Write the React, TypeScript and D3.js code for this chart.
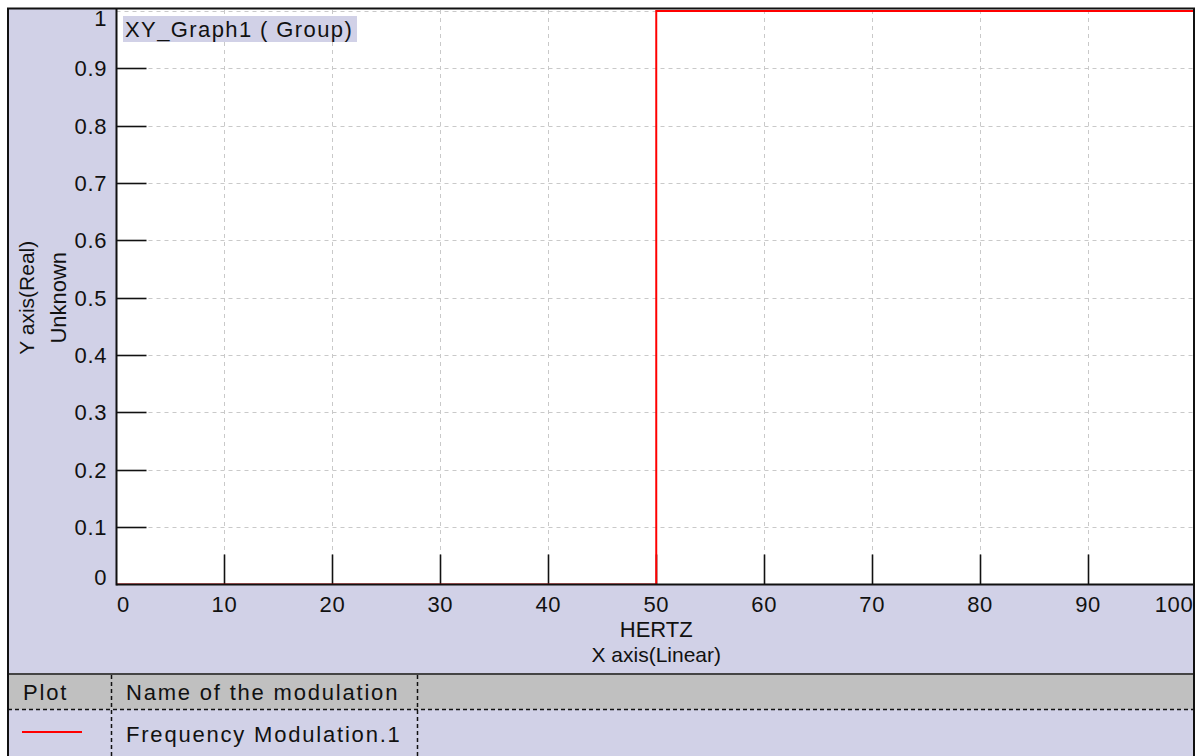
import React from "react";
import * as d3 from "d3";

// ---- data ----
const hertz: number[] = [0, 50, 50, 100];
const modulation: number[] = [0, 0, 1, 1];
const xTickValues: number[] = [0, 10, 20, 30, 40, 50, 60, 70, 80, 90, 100];
const yTickValues: number[] = [0, 0.1, 0.2, 0.3, 0.4, 0.5, 0.6, 0.7, 0.8, 0.9, 1];
const yTickLabels: string[] = ["0", "0.1", "0.2", "0.3", "0.4", "0.5", "0.6", "0.7", "0.8", "0.9", "1"];
const graphTitle = "XY_Graph1 ( Group)";
const xTitle1 = "HERTZ";
const xTitle2 = "X axis(Linear)";
const yTitle1 = "Y axis(Real)";
const yTitle2 = "Unknown";
const legendHeaders: string[] = ["Plot", "Name of the modulation"];
const seriesName = "Frequency Modulation.1";

const W = 1203;
const H = 756;
const FONT = "'Liberation Sans', Arial, Helvetica, sans-serif";
const LAV = "#d1d1e7";

export default function App() {
  const frameL = 8, frameR = 1194, frameT = 8.5;
  const plotL = 116.5, plotR = 1194, plotB = 584.5, plotT = 10;
  const x = d3.scaleLinear().domain([0, 100]).range([plotL, 1196]);
  const y = d3.scaleLinear().domain([0, 1]).range([plotB, 11]);
  const line = d3
    .line<number>()
    .x((_, i) => x(hertz[i]))
    .y((d) => y(d));
  const pathD = line(modulation) || "";

  const sepY = 674;
  const headerB = 709.5;
  const col1 = 111.5;
  const col2 = 417.5;
  const fs = 21;
  const fsL = 22;
  const ls = 1.8;

  return (
    <svg
      width={W}
      height={H}
      style={{ position: "absolute", left: 0, top: 0, display: "block" }}
      fontFamily={FONT}
    >
      <defs>
        <clipPath id="plotclip">
          <rect x={plotL} y={plotT - 2} width={plotR - plotL} height={plotB - plotT + 2} />
        </clipPath>
        <clipPath id="frameclip">
          <rect x={frameL} y={frameT} width={frameR - frameL} height={H} />
        </clipPath>
      </defs>
      <rect x={0} y={0} width={W} height={H} fill="#ffffff" />
      {/* frame background */}
      <rect x={frameL} y={frameT} width={frameR - frameL} height={H - frameT} fill={LAV} />
      {/* plot area */}
      <rect x={plotL} y={plotT - 1} width={plotR - plotL} height={plotB - plotT + 1} fill="#ffffff" />
      {/* grid */}
      <g stroke="#c9c9c9" strokeWidth={1} strokeDasharray="4,4" clipPath="url(#plotclip)">
        {xTickValues.slice(1).map((v) => (
          <line key={"gx" + v} x1={Math.round(x(v)) + 0.5} x2={Math.round(x(v)) + 0.5} y1={plotT} y2={plotB} />
        ))}
        {yTickValues.slice(1).map((v) => (
          <line key={"gy" + v} x1={plotL} x2={plotR} y1={Math.round(y(v)) + 0.5} y2={Math.round(y(v)) + 0.5} />
        ))}
      </g>
      {/* graph title */}
      <rect x={123} y={16} width={234} height={26} fill={LAV} />
      <text x={125} y={37} fontSize={fsL} letterSpacing={1.4} fill="#111">{graphTitle}</text>
      {/* ticks */}
      <g stroke="#111" strokeWidth={1.6}>
        {yTickValues.slice(1, 10).map((v) => (
          <line key={"ty" + v} x1={plotL} x2={plotL + 30} y1={Math.round(y(v)) + 0.5} y2={Math.round(y(v)) + 0.5} />
        ))}
        {xTickValues.slice(1, 10).map((v) => (
          <line key={"tx" + v} x1={Math.round(x(v)) + 0.5} x2={Math.round(x(v)) + 0.5} y1={plotB} y2={plotB - 30} />
        ))}
      </g>
      {/* series */}
      <path d={pathD} fill="none" stroke="#ff0000" strokeWidth={2} clipPath="url(#plotclip)" />
      {/* axes */}
      <line x1={plotL} x2={plotL} y1={frameT} y2={plotB + 1} stroke="#111" strokeWidth={2} />
      <line x1={plotL} x2={plotR} y1={plotB} y2={plotB} stroke="#111" strokeWidth={2} />
      {/* y tick labels */}
      <g fontSize={fsL} fill="#111" textAnchor="end" letterSpacing={0.6}>
        {yTickValues.map((v, i) => {
          let cy = y(v);
          if (i === 0) cy = plotB - 7;
          if (i === yTickValues.length - 1) cy = plotT + 8;
          return (
            <text key={"ly" + v} x={107} y={cy} dy="0.36em">{yTickLabels[i]}</text>
          );
        })}
      </g>
      {/* x tick labels */}
      <g fontSize={fsL} fill="#111" textAnchor="middle" letterSpacing={0.6} clipPath="url(#frameclip)">
        {xTickValues.map((v, i) => {
          let cx = x(v);
          if (i === 0) cx = x(v) + 7;
          if (i === xTickValues.length - 1) cx = x(v) - 22;
          return (
            <text key={"lx" + v} x={cx} y={612}>{String(v)}</text>
          );
        })}
      </g>
      {/* axis titles */}
      <text x={x(50)} y={637} fontSize={fsL} textAnchor="middle" fill="#111">{xTitle1}</text>
      <text x={x(50)} y={662} fontSize={fs} textAnchor="middle" fill="#111">{xTitle2}</text>
      <text transform={`translate(26,${y(0.5)}) rotate(-90)`} fontSize={fs} textAnchor="middle" dy="0.36em" fill="#111">{yTitle1}</text>
      <text transform={`translate(58,${y(0.5)}) rotate(-90)`} fontSize={fsL} textAnchor="middle" dy="0.36em" fill="#111">{yTitle2}</text>
      {/* legend table */}
      <rect x={frameL} y={sepY} width={frameR - frameL} height={headerB - sepY} fill="#c0c0c0" />
      <line x1={frameL} x2={frameR} y1={sepY} y2={sepY} stroke="#444" strokeWidth={2} />
      <line x1={frameL} x2={frameR} y1={headerB} y2={headerB} stroke="#111" strokeWidth={1.5} strokeDasharray="4,3" />
      <line x1={col1} x2={col1} y1={sepY + 1} y2={H} stroke="#111" strokeWidth={1.5} strokeDasharray="4,3" />
      <line x1={col2} x2={col2} y1={sepY + 1} y2={H} stroke="#111" strokeWidth={1.5} strokeDasharray="4,3" />
      <text x={23} y={700} fontSize={fsL} letterSpacing={ls} fill="#111">{legendHeaders[0]}</text>
      <text x={126} y={700} fontSize={fsL} letterSpacing={ls} fill="#111">{legendHeaders[1]}</text>
      <line x1={22} x2={82} y1={732} y2={732} stroke="#ff0000" strokeWidth={2} />
      <text x={126} y={742} fontSize={fsL} letterSpacing={ls} fill="#111">{seriesName}</text>
      {/* frame border */}
      <line x1={frameL} x2={frameL} y1={frameT} y2={H} stroke="#111" strokeWidth={2} />
      <line x1={frameR} x2={frameR} y1={frameT} y2={H} stroke="#111" strokeWidth={2} />
      <line x1={frameL - 1} x2={frameR + 1} y1={frameT} y2={frameT} stroke="#111" strokeWidth={2} />
    </svg>
  );
}
